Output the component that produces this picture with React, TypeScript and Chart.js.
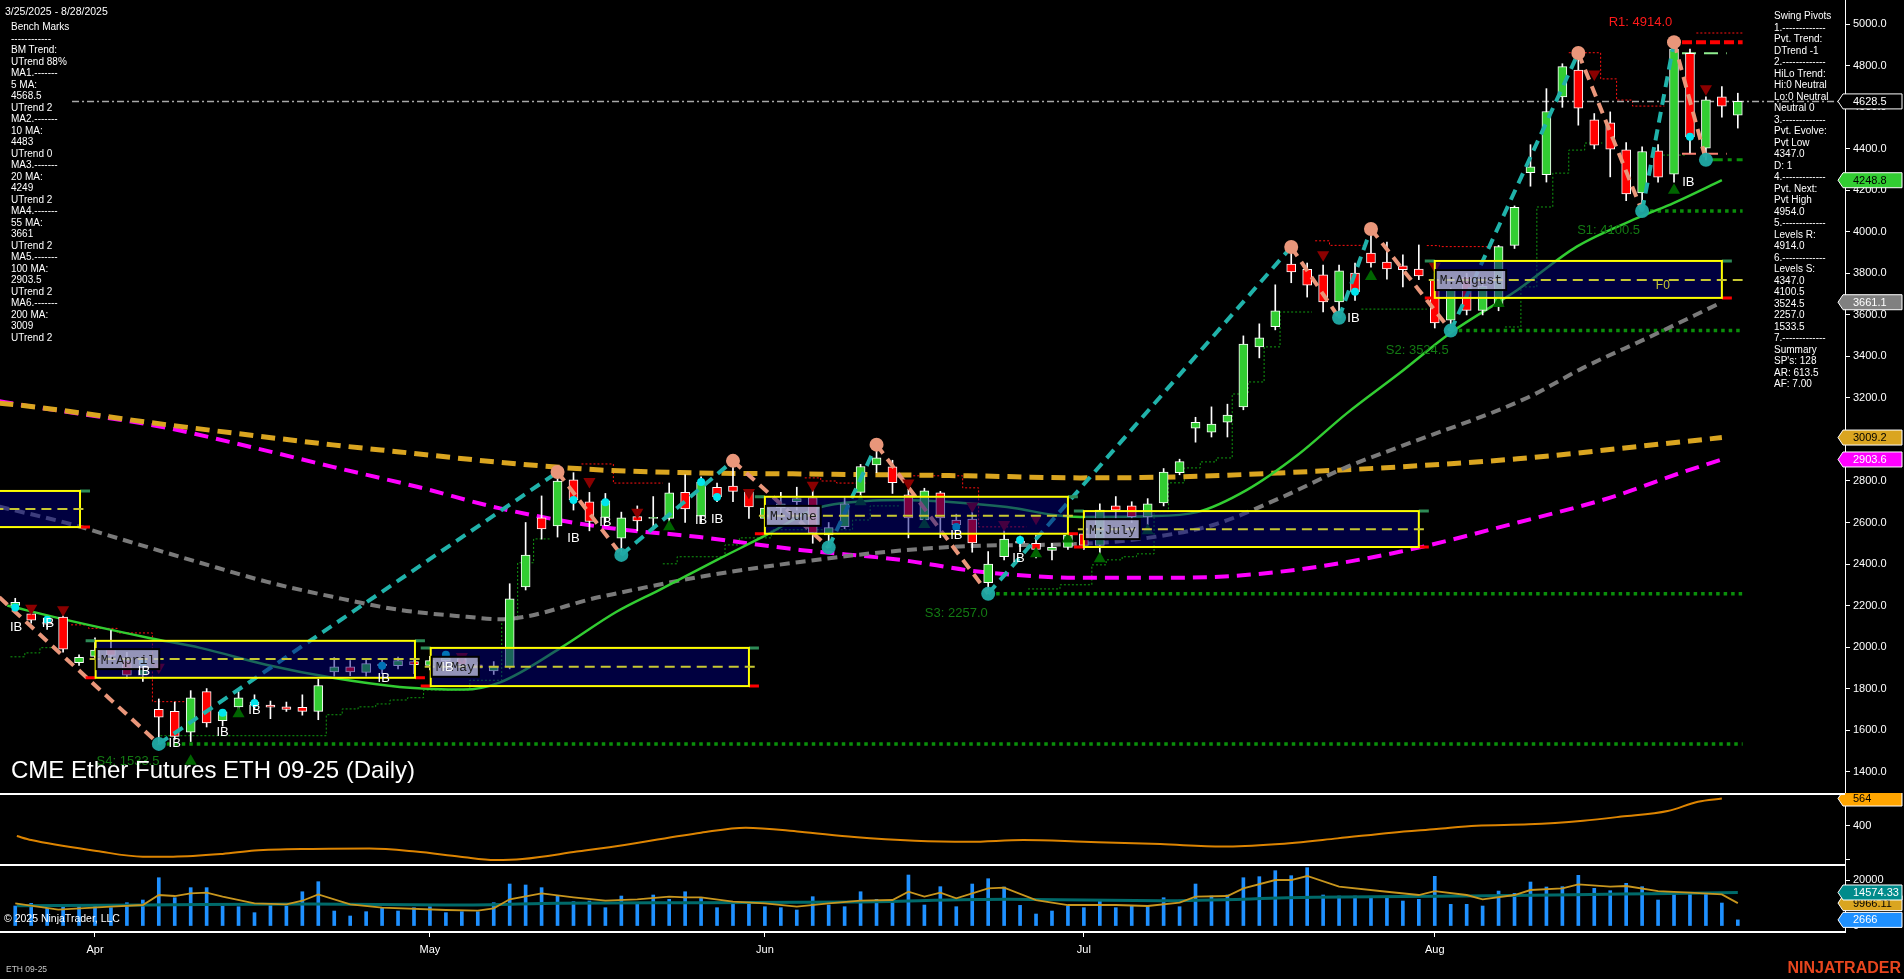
import React, { useEffect, useRef } from "react";
import { Chart, registerables } from "chart.js";

Chart.register(...registerables);

const FONT = '"Liberation Sans", Arial, Helvetica, sans-serif';
const MONO = '"Liberation Mono", "DejaVu Sans Mono", monospace';

// ---------------- data ----------------
const DATES = [
  "3/25","3/26","3/27","3/28","3/31",
  "4/1","4/2","4/3","4/4","4/7","4/8","4/9","4/10","4/11","4/14","4/15","4/16","4/17","4/21","4/22","4/23","4/24","4/25","4/28","4/29","4/30",
  "5/1","5/2","5/5","5/6","5/7","5/8","5/9","5/12","5/13","5/14","5/15","5/16","5/19","5/20","5/21","5/22","5/23","5/27","5/28","5/29","5/30",
  "6/2","6/3","6/4","6/5","6/6","6/9","6/10","6/11","6/12","6/13","6/16","6/17","6/18","6/20","6/23","6/24","6/25","6/26","6/27","6/30",
  "7/1","7/2","7/3","7/7","7/8","7/9","7/10","7/11","7/14","7/15","7/16","7/17","7/18","7/21","7/22","7/23","7/24","7/25","7/28","7/29","7/30","7/31",
  "8/1","8/4","8/5","8/6","8/7","8/8","8/11","8/12","8/13","8/14","8/15","8/18","8/19","8/20","8/21","8/22","8/25","8/26","8/27","8/28",
];

const OPEN = [
  2200,2160,2120,2145,1925,1955,1990,1935,1865,1700,
  1690,1590,1785,1645,1712,1735,1720,1712,1710,1690,
  1880,1905,1878,1918,1910,1930,1912,1935,1945,1915,
  1885,1905,2290,2622,2584,2805,2700,2625,2525,2628,
  2620,2620,2745,2630,2770,2775,2748,2620,2670,2700,
  2720,2540,2580,2745,2878,2868,2733,2613,2743,2612,
  2617,2310,2435,2510,2500,2465,2480,2545,2490,2680,
  2680,2627,2694,2840,3054,3035,3083,3157,3446,3543,
  3845,3820,3793,3663,3802,3898,3855,3837,3821,3768,
  3575,3782,3622,3640,3935,4285,4275,4650,4780,4540,
  4525,4395,4188,4391,4278,4860,4403,4650,4562,
];
const HIGH = [
  2235,2175,2145,2150,1962,2045,2080,1975,1925,1750,
  1735,1790,1800,1700,1785,1770,1740,1735,1770,1845,
  1950,1935,1945,1945,1952,1942,1955,1962,1952,1928,
  1930,2305,2600,2728,2843,2840,2745,2740,2650,2680,
  2725,2790,2830,2820,2790,2897,2760,2690,2745,2770,
  2760,2600,2720,2880,2975,2900,2760,2765,2750,2640,
  2650,2460,2560,2535,2540,2500,2560,2585,2690,2725,
  2700,2715,2860,2905,3107,3157,3170,3499,3557,3745,
  3927,3850,3840,3840,3850,4014,3951,3890,3937,3800,
  3730,3800,3760,3935,4125,4420,4690,4810,4862,4570,
  4578,4430,4410,4420,4914,4880,4650,4700,4668,
];
const LOW = [
  2165,2115,2085,1975,1912,1945,1940,1850,1835,1534,
  1555,1545,1615,1620,1683,1700,1655,1690,1672,1650,
  1860,1862,1860,1872,1895,1872,1890,1912,1900,1862,
  1868,1895,2275,2520,2530,2660,2560,2600,2444,2560,
  2565,2570,2600,2600,2700,2700,2620,2590,2640,2660,
  2500,2480,2570,2725,2840,2740,2526,2600,2527,2560,
  2457,2257,2420,2460,2430,2420,2470,2470,2450,2620,
  2600,2590,2680,2830,2987,3012,3012,3143,3393,3528,
  3755,3686,3614,3586,3670,3830,3772,3735,3770,3537,
  3524,3600,3600,3620,3920,4220,4240,4600,4514,4400,
  4265,4150,4100,4240,4240,4380,4347,4553,4500,
];
const CLOSE = [
  2215,2130,2110,1990,1950,1985,1960,1865,1895,1662,
  1570,1755,1635,1688,1755,1722,1710,1700,1690,1815,
  1905,1880,1920,1910,1935,1915,1935,1948,1915,1898,
  1905,2232,2443,2569,2800,2710,2605,2705,2622,2608,
  2624,2743,2665,2795,2723,2750,2675,2670,2690,2715,
  2550,2575,2690,2870,2912,2792,2622,2752,2622,2588,
  2502,2400,2520,2500,2470,2480,2540,2490,2660,2660,
  2628,2690,2843,2893,3083,3074,3118,3460,3490,3620,
  3807,3743,3663,3812,3711,3850,3822,3818,3788,3561,
  3720,3622,3739,3929,4118,4313,4580,4796,4596,4418,
  4399,4183,4387,4264,4880,4458,4636,4606,4628.5,
];
const VOLUME = [
  8700,9860,7680,8700,8700,9130,7970,10140,11300,21000,
  12300,16670,16670,8700,8400,5800,9860,8700,14900,19270,
  6520,4350,6230,7680,6520,7970,8400,5800,6230,6230,
  10140,18260,17830,16670,13040,10580,10870,7970,13040,9860,
  13480,11600,14900,12000,7970,9420,10140,8400,7970,6960,
  12750,9130,8400,14900,11600,11300,22170,9130,17100,8400,
  18260,20570,16960,8980,5220,6520,8700,7970,11300,7970,
  8700,8700,12300,8400,18260,13040,13480,21000,21450,24050,
  21880,25360,13480,13040,13040,12750,12460,10870,11600,21600,
  9420,9420,8700,15200,14200,19130,16960,17100,22030,16380,
  15360,18550,17100,11300,14000,14000,14200,10000,2666,
];

// axis ticks
const PRICE_TICKS = [1400,1600,1800,2000,2200,2400,2600,2800,3000,3200,3400,3600,3800,4000,4200,4400,4600,4800,5000];
const ATR_TICKS = [200, 400];
const ATR_TICK_LABELS = ["", "400"];
const VOL_TICKS = [0, 20000];
const MONTH_NAMES = ["Jan","Feb","Mar","Apr","May","Jun","Jul","Aug","Sep","Oct","Nov","Dec"];

// moving averages (bar index, value)
const MA20_IDX = [-0.5,3.2,8.4,11.6,15.8,19.9,24.1,26.2,28.1,30.4,34.2,37.7,40.4,44,47.1,50.3,53.4,55.5,58.4,62.6,65.1,66.8,71,74.1,77.2,80.4,83.5,86.8,90,94.2,97.9,101.9,104,107];
const MA20_VAL = [2200,2131,2044,1996,1914,1852,1808,1798,1795,1830,1996,2170,2276,2420,2540,2670,2704,2709,2700,2670,2636,2627,2630,2650,2756,2925,3127,3320,3514,3721,3929,4073,4140,4249];
const MA55_IDX = [-1,3.2,7.4,11.6,15.8,19.9,24.1,28.3,30.4,36.7,42.9,49.2,55.5,60.5,66.8,71,75.1,79.3,83.5,86.8,94.8,98.3,102.5,107];
const MA55_VAL = [2676,2598,2502,2406,2314,2242,2179,2146,2134,2242,2338,2410,2465,2488,2497,2526,2588,2718,2868,2965,3201,3345,3495,3661];
const MA200_IDX = [-1,0.1,9.5,19.9,24.1,30.4,36.7,42.9,49.2,55.5,60.5,66.8,73,79.3,86.8,94.2,104.4,107];
const MA200_VAL = [3175,3167,3071,2974,2940,2890,2853,2839,2834,2829,2824,2815,2820,2839,2868,2907,2988,3009];
const MA100_IDX = [-1,0.1,9.5,14.7,19.9,25.2,30.4,36.7,42.9,49.2,55.5,60.5,66.8,73,79.3,86.8,94.2,100,104.6,107];
const MA100_VAL = [3185,3170,3056,2965,2868,2772,2668,2579,2530,2468,2420,2363,2334,2334,2363,2459,2600,2720,2844,2904];

// swing pivots (first point is an off-chart high)
const SWING_IDX = [-1,9,34,38,45,51,54,61,80,83,85,90,98,102,104,106];
const SWING_VAL = [2240,1533.5,2843,2444,2897,2480,2975,2257,3927,3586,4014,3524.5,4862,4100.5,4914,4347];

// support / resistance levels
const SUP_LEVEL = [1533.5, 2257, 3524.5, 4100.5];
const SUP_START = [9.5, 61.5, 90.5, 102.5];
const LEVEL_END = 108.3;
const R1_LEVEL = 4914;
const PVT_LOW = 4347;
const LAST_PRICE = 4628.5;
const PREV_HI_MARK = 4860;
const PREV_LO_MARK = 4376;

// trailing step lines (null = gap)
const TSUP_IDX = [-0.3,0.6,1.55,2.5,2.5,
  9.1,19.5,20.5,21.5,22.6,23.5,24.6,25.6,28.5,30.5,31.5,32.5,33.5,33.5,
  40.6,41.5,44.5,45.4,47.4,52.5,53.6,55.5,55.5,
  63.5,65.5,67.5,68.4,69.4,70.3,71.4,72.3,73.3,74.3,75.3,76.3,77.3,78.3,79.3,81.3,81.3,
  84.4,88.5,88.5,
  93.4,94.4,95.4,96.4,97.4,98.4,99.5,99.5,
  103.3,104.8];
const TSUP_VAL = [1953,1972,1997,1997,null,
  1573,1674,1702,1712,1726,1745,1756,1793,1840,2131,2406,2521,2521,null,
  2401,2435,2492,2526,2565,2612,2680,2680,null,
  2280,2300,2396,2420,2435,2449,2652,2791,2863,2892,2911,3219,3277,3446,3614,3614,null,
  3628,3628,null,
  3542,3735,4120,4283,4394,4428,4428,null,
  4370,4370];
const TRES_IDX = [3.5,4.6,6.4,8.6,10.6,10.6,
  35.5,37.5,40.6,40.6,
  49.5,50.5,51.5,53.4,53.4,
  56.3,59.4,60.4,63.4,63.4,
  81.5,82.4,84.5,84.5,
  88.5,89.3,92.9,92.9,
  97.4,99.4,100.4,101.4,103.4,103.4,
  105.4,108.3];
const TRES_VAL = [2107,2090,2068,1737,1737,null,
  2882,2790,2790,null,
  2815,2800,2790,2790,null,
  2825,2767,2579,2579,null,
  3957,3935,3935,null,
  3934,3929,3929,null,
  4863,4737,4635,4606,4606,null,
  4958,4958];

// markers
const TRI_DN_IDX = [1,3,9,28,36,39,46,50,56,60,62,64,82,89,99,106];
const TRI_DN_VAL = [2187,2180,1903,1955,2797,2650,2745,2780,2790,2680,2590,2620,3890,3835,4760,4690];
const TRI_UP_IDX = [11,14,41,53,57,64,66,68,71,85,93,104];
const TRI_UP_VAL = [1450,1679,2580,2700,2590,2450,2520,2425,2560,3785,3655,4200];
const DOT_IDX = [0,2,8,13,15,23,27,35,37,43,44,59,63,84,105];
const DOT_VAL = [2190,2131,1924,1683,1731,1910,1963,2708,2698,2795,2723,2578,2516,3711,4458];
const IB_IDX = [0.05,2.05,8.07,10,13,15,23.1,27.1,35,37,43,44,59,62.9,83.9,104.9];
const IB_VAL = [2097,2116,1885,1538,1591,1697,1851,1900,2522,2599,2608,2613,2536,2425,3581,4240];

const LEVEL_TEXT = ["R1: 4914.0","S1: 4100.5","S2: 3524.5","S3: 2257.0","S4: 1533.5"];
const LEVEL_TEXT_IDX = [101.9,99.9,87.9,59,7.07];
const LEVEL_TEXT_VAL = [5008,4009,3431,2164,1447];

// monthly range boxes
const BOX_START = [-3,5.04,26.05,47,67,89];
const BOX_END = [4.06,25.06,46,66,88,107];
const BOX_TOP = [2752,2030,1996,2724,2655,3860];
const BOX_BOTTOM = [2578,1852,1812,2546,2482,3682];
const BOX_MID = [2665,1942,1905,2632,2568,3768];
const BOX_LABEL = ["","M:April","M:May","M:June","M:July","M:August"];

// price tags on right axis
const PRICE_TAG_VAL = [4628.5, 4248.8, 3661.1, 3009.2, 2903.6];
const PRICE_TAG_FILL = ["#000000","#32CD32","#808080","#DAA520","#FF00FF"];
const PRICE_TAG_TEXT = ["#FFFFFF","#000000","#FFFFFF","#000000","#FFFFFF"];

// ATR panel
const ATR_IDX = [0.1,1,5.1,8,9.9,13,15,18.6,22.2,25.1,27.9,30.1,31.8,35.2,38.2,43,45.8,49.2,52.6,56.4,59.8,63.2,67,71.8,75.7,79,82.9,86.3,89.1,91.6,94.9,98.3,100.7,103.6,105.5,107];
const ATR_VAL = [340,316,251,217,217,233,253,263,265,247,217,197,203,247,287,360,390,366,334,312,306,316,306,292,277,291,326,360,382,402,410,432,456,489,545,564];

// volume averages
const VOL_FAST_IDX = [0,2.7,6,8,9,10,11,12,13,15,17,18,19,21,23,27,29,30,31,33,35,37,39,41,42,43,45,47,49,51,53,55,56,57,58,59,61,62,64,66,69,71,73,74,76,77,79,80,81,83,86,88,89,91,92,94,95,97,98,100,101,103,105,107,108];
const VOL_FAST_VAL = [9860,7100,8400,9130,13480,13040,14200,14500,12750,9860,9420,11000,13770,9420,7970,6960,6700,7680,11600,14200,12460,11000,11600,12750,12460,12460,10580,9860,8400,9860,11000,11300,14900,12750,14500,12000,16380,16670,11300,9130,9130,8700,10140,12750,13040,16380,20000,20000,21740,17100,14900,13480,15200,13480,11600,13480,15650,16380,18120,17100,17390,15200,14500,13770,9966.11];
const VOL_SLOW_IDX = [0.1,8.1,18.6,27,34,42.9,52.6,62.2,71.8,81.4,91,100.7,108];
const VOL_SLOW_VAL = [8840,9130,9560,9130,9860,10140,10430,11600,11000,12460,13040,13910,14574.33];

const LEFT_LINES = ["Bench Marks","------------","BM Trend:","UTrend 88%","MA1.-------","5 MA:","4568.5","UTrend 2","MA2.-------","10 MA:","4483","UTrend 0","MA3.-------","20 MA:","4249","UTrend 2","MA4.-------","55 MA:","3661","UTrend 2","MA5.-------","100 MA:","2903.5","UTrend 2","MA6.-------","200 MA:","3009","UTrend 2"];
const RIGHT_LINES = ["Swing Pivots","1.-------------","Pvt. Trend:","DTrend -1","2.-------------","HiLo Trend:","Hi:0 Neutral","Lo:0 Neutral","Neutral 0","3.-------------","Pvt. Evolve:","Pvt Low","4347.0","D: 1","4.-------------","Pvt. Next:","Pvt High","4954.0","5.-------------","Levels R:","4914.0","6.-------------","Levels S:","4347.0","4100.5","3524.5","2257.0","1533.5","7.-------------","Summary","SP's: 128","AR: 613.5","AF: 7.00"];

// ---------------- layout constants ----------------
const X_MIN = -0.956;
const X_MAX = 114.72;
const AXIS_W = 59;

const MONTH_TICKS: number[] = [];
const MONTH_LABELS: string[] = [];
DATES.forEach((d, i) => {
  const m = +d.split("/")[0];
  if (i > 0 && m !== +DATES[i - 1].split("/")[0]) {
    MONTH_TICKS.push(i);
    MONTH_LABELS.push(MONTH_NAMES[m - 1]);
  }
});

const pts = (xs: number[], ys: (number | null)[]) => xs.map((x, i) => ({ x, y: ys[i] }));

function xAxis(display: boolean): any {
  const base: any = { type: "linear", min: X_MIN, max: X_MAX, offset: false, display, grid: { offset: false } };
  if (!display) return base;
  return {
    ...base,
    position: "bottom",
    grid: { offset: false, drawOnChartArea: false, drawTicks: true, tickLength: 5, color: "#FFFFFF", tickColor: "#FFFFFF" },
    border: { display: true, color: "#FFFFFF", width: 2 },
    ticks: {
      autoSkip: false, maxRotation: 0, minRotation: 0, color: "#FFFFFF",
      font: { family: FONT, size: 11 }, padding: 6,
      callback: (_v: any, i: number) => MONTH_LABELS[i],
    },
    afterBuildTicks: (s: any) => { s.ticks = MONTH_TICKS.map((v) => ({ value: v })); },
    afterFit: (s: any) => { s.height = 47; s.paddingLeft = 0; s.paddingRight = 0; },
  };
}

function yAxis(min: number, max: number, ticks: number[], label: (v: number) => string): any {
  return {
    type: "linear", position: "right", min, max,
    grid: { drawOnChartArea: false, drawTicks: true, tickLength: 5, color: "#FFFFFF", tickColor: "#FFFFFF" },
    border: { display: true, color: "#FFFFFF", width: 1 },
    ticks: { color: "#FFFFFF", font: { family: FONT, size: 11 }, padding: 3, autoSkip: false, callback: (v: any) => label(Number(v)) },
    afterBuildTicks: (s: any) => { s.ticks = ticks.map((v) => ({ value: v })); },
    afterFit: (s: any) => { s.width = AXIS_W; s.paddingTop = 0; s.paddingBottom = 0; },
  };
}

function drawTag(ctx: CanvasRenderingContext2D, right: number, y: number, text: string, fill: string, color: string) {
  const tip = right - 7, l = right - 2, r = right + 57, h = 7.5;
  ctx.beginPath();
  ctx.moveTo(tip, y);
  ctx.lineTo(l, y - h);
  ctx.lineTo(r, y - h);
  ctx.lineTo(r, y + h);
  ctx.lineTo(l, y + h);
  ctx.closePath();
  ctx.fillStyle = fill;
  ctx.fill();
  ctx.setLineDash([]);
  ctx.strokeStyle = "#FFFFFF";
  ctx.lineWidth = 1;
  ctx.stroke();
  ctx.fillStyle = color;
  ctx.font = `11px ${FONT}`;
  ctx.textAlign = "left";
  ctx.textBaseline = "middle";
  ctx.fillText(text, right + 8, y + 0.5);
}

const baseOptions = (scales: any): any => ({
  responsive: false,
  animation: false,
  devicePixelRatio: 1,
  events: [],
  layout: { padding: 0, autoPadding: false },
  plugins: { legend: { display: false }, tooltip: { enabled: false } },
  scales,
});

const lineDs = (data: any[], color: string, width: number, dash: number[], order: number, extra: any = {}): any => ({
  type: "line", data, borderColor: color, backgroundColor: color, borderWidth: width,
  borderDash: dash, pointRadius: 0, pointHoverRadius: 0, fill: false, order, spanGaps: false, ...extra,
});

const markerDs = (data: any[], color: string, style: string, radius: number, rotation: number, order: number): any => ({
  type: "line", data, showLine: false, pointStyle: style, pointRadius: radius, pointRotation: rotation,
  pointBackgroundColor: color, pointBorderColor: color, pointBorderWidth: 0, backgroundColor: color, borderColor: color, order,
});

function priceConfig(): any {
  const bodies = OPEN.map((o, i) => {
    const c = CLOSE[i];
    const lo = Math.min(o, c);
    let hi = Math.max(o, c);
    if (hi - lo < 5) hi = lo + 5;
    return { x: i, y: [lo, hi] };
  });
  const wicks = HIGH.map((h, i) => ({ x: i, y: [LOW[i], h] }));
  const bodyColors = OPEN.map((o, i) => (CLOSE[i] >= o ? "#32CD32" : "#FF0000"));

  const cyan: any[] = [];
  const salmon: any[] = [];
  const highs: any[] = [];
  const lows: any[] = [];
  for (let k = 0; k < SWING_IDX.length; k++) {
    if (SWING_IDX[k] >= 0) {
      const prev = k > 0 ? SWING_VAL[k - 1] : 0;
      (SWING_VAL[k] > prev ? highs : lows).push({ x: SWING_IDX[k], y: SWING_VAL[k] });
    }
    if (k < SWING_IDX.length - 1) {
      const a = { x: SWING_IDX[k], y: SWING_VAL[k] };
      const b = { x: SWING_IDX[k + 1], y: SWING_VAL[k + 1] };
      const arr = b.y > a.y ? cyan : salmon;
      arr.push(a, b, { x: b.x, y: null });
    }
  }
  const sup: any[] = [];
  SUP_LEVEL.forEach((lv, i) => { sup.push({ x: SUP_START[i], y: lv }, { x: LEVEL_END, y: lv }, { x: LEVEL_END, y: null }); });

  const datasets: any[] = [
    markerDs(highs, "#E9967A", "circle", 7, 0, 0),
    markerDs(lows, "rgba(32,170,165,0.95)", "circle", 7, 0, 0),
    markerDs(pts(TRI_DN_IDX, TRI_DN_VAL), "#8B0000", "triangle", 7, 180, 1),
    markerDs(pts(TRI_UP_IDX, TRI_UP_VAL), "#006400", "triangle", 7, 0, 1),
    markerDs(pts(DOT_IDX, DOT_VAL), "#00E5EE", "circle", 4, 0, 1),
    lineDs(cyan, "#20B2AA", 4, [11, 7], 2),
    lineDs(salmon, "#E9967A", 4, [11, 7], 2),
    {
      type: "bar", data: bodies, backgroundColor: bodyColors, borderColor: "#FFFFFF", borderWidth: 1,
      borderSkipped: false, barThickness: 9, maxBarThickness: 9, grouped: false, order: 3,
    },
    {
      type: "bar", data: wicks, backgroundColor: "#FFFFFF", borderWidth: 0,
      barThickness: 1, maxBarThickness: 1, grouped: false, order: 4,
    },
    lineDs(pts(MA20_IDX, MA20_VAL), "#32CD32", 2.5, [], 5, { cubicInterpolationMode: "monotone" }),
    lineDs(pts(MA55_IDX, MA55_VAL), "#7A7A7A", 4, [10, 6], 5, { cubicInterpolationMode: "monotone" }),
    lineDs(pts(MA200_IDX, MA200_VAL), "#DAA520", 5, [14, 8], 5, { cubicInterpolationMode: "monotone" }),
    lineDs(pts(MA100_IDX, MA100_VAL), "#FF00FF", 4, [14, 8], 6, { cubicInterpolationMode: "monotone" }),
    lineDs(sup, "#0A8F0A", 3.5, [3.5, 4], 7),
    lineDs([{ x: 104.5, y: R1_LEVEL }, { x: LEVEL_END, y: R1_LEVEL }], "#FF0000", 4, [10, 4], 7),
    lineDs([{ x: 106.3, y: PVT_LOW }, { x: LEVEL_END, y: PVT_LOW }], "#0A8F0A", 3, [12, 5, 4, 5], 7),
    lineDs([{ x: 104.5, y: PREV_HI_MARK }, { x: 107.3, y: PREV_HI_MARK }], "#90EE90", 2, [14, 8], 7),
    lineDs([{ x: 104.5, y: PREV_LO_MARK }, { x: 107.3, y: PREV_LO_MARK }], "#FA8072", 2, [14, 8], 7),
    lineDs([{ x: 3.56, y: LAST_PRICE }, { x: X_MAX, y: LAST_PRICE }], "#A9A9A9", 1.5, [7, 3, 2, 3], 8),
    lineDs(pts(TSUP_IDX, TSUP_VAL), "#109A10", 1, [2, 2], 8, { stepped: true }),
    lineDs(pts(TRES_IDX, TRES_VAL), "#FF1010", 1, [2, 2], 8, { stepped: true }),
  ];

  const overlay = {
    id: "priceOverlay",
    afterDatasetsDraw(chart: any) {
      const { ctx, chartArea: ca, scales } = chart;
      const xs = scales.x, ys = scales.y;
      ctx.save();
      ctx.beginPath();
      ctx.rect(ca.left, ca.top, ca.right - ca.left, ca.bottom - ca.top);
      ctx.clip();
      for (let b = 0; b < BOX_START.length; b++) {
        const x0 = xs.getPixelForValue(BOX_START[b]);
        const x1 = xs.getPixelForValue(BOX_END[b]);
        const yT = ys.getPixelForValue(BOX_TOP[b]);
        const yB = ys.getPixelForValue(BOX_BOTTOM[b]);
        const yM = ys.getPixelForValue(BOX_MID[b]);
        ctx.fillStyle = "rgba(0,0,128,0.5)";
        ctx.fillRect(x0, yT, x1 - x0, yB - yT);
        ctx.setLineDash([]);
        ctx.lineWidth = 3;
        ctx.strokeStyle = "#2E8B57";
        ctx.beginPath(); ctx.moveTo(x0 - 10, yT); ctx.lineTo(x0, yT); ctx.moveTo(x1, yT); ctx.lineTo(x1 + 10, yT); ctx.stroke();
        ctx.strokeStyle = "#FF0000";
        ctx.beginPath(); ctx.moveTo(x0 - 10, yB); ctx.lineTo(x0, yB); ctx.moveTo(x1, yB); ctx.lineTo(x1 + 10, yB); ctx.stroke();
        ctx.strokeStyle = "#FFFF00";
        ctx.lineWidth = 2;
        ctx.strokeRect(x0, yT, x1 - x0, yB - yT);
        ctx.setLineDash([10, 6]);
        ctx.strokeStyle = "#C8C832";
        ctx.beginPath();
        ctx.moveTo(x0 - 6, yM);
        ctx.lineTo(b === BOX_START.length - 1 ? xs.getPixelForValue(LEVEL_END) : x1 + 6, yM);
        ctx.stroke();
        ctx.setLineDash([]);
        if (BOX_LABEL[b]) {
          ctx.font = `13px ${MONO}`;
          const w = ctx.measureText(BOX_LABEL[b]).width + 8;
          ctx.fillStyle = "rgba(190,190,218,0.78)";
          ctx.fillRect(x0 + 1, yM - 10, w, 20);
          ctx.strokeStyle = "#000000";
          ctx.lineWidth = 2;
          ctx.strokeRect(x0 + 1, yM - 10, w, 20);
          ctx.fillStyle = "#1A1A1A";
          ctx.textAlign = "left";
          ctx.textBaseline = "middle";
          ctx.fillText(BOX_LABEL[b], x0 + 5, yM + 1);
        }
      }
      ctx.font = `12px ${FONT}`;
      ctx.fillStyle = "#C8C832";
      ctx.textAlign = "center";
      ctx.textBaseline = "middle";
      ctx.fillText("F0", xs.getPixelForValue(103.3), ys.getPixelForValue(3740));
      ctx.font = `13px ${FONT}`;
      ctx.fillStyle = "#FFFFFF";
      IB_IDX.forEach((ix, i) => ctx.fillText("IB", xs.getPixelForValue(ix), ys.getPixelForValue(IB_VAL[i])));
      LEVEL_TEXT.forEach((t, i) => {
        ctx.fillStyle = t.startsWith("R") ? "#FF1A1A" : "#137A13";
        ctx.fillText(t, xs.getPixelForValue(LEVEL_TEXT_IDX[i]), ys.getPixelForValue(LEVEL_TEXT_VAL[i]));
      });
      ctx.restore();
    },
    afterDraw(chart: any) {
      const { ctx, chartArea: ca, scales } = chart;
      ctx.save();
      PRICE_TAG_VAL.forEach((v, i) =>
        drawTag(ctx, ca.right, scales.y.getPixelForValue(v), v.toFixed(1), PRICE_TAG_FILL[i], PRICE_TAG_TEXT[i])
      );
      ctx.restore();
    },
  };

  return {
    type: "line",
    data: { datasets },
    options: baseOptions({ x: xAxis(false), y: yAxis(1297, 5117, PRICE_TICKS, (v) => v.toFixed(1)) }),
    plugins: [overlay],
  };
}

function atrConfig(): any {
  const overlay = {
    id: "atrOverlay",
    afterDraw(chart: any) {
      const { ctx, chartArea: ca, scales } = chart;
      ctx.save();
      drawTag(ctx, ca.right, scales.y.getPixelForValue(ATR_VAL[ATR_VAL.length - 1]), String(ATR_VAL[ATR_VAL.length - 1]), "#FFA500", "#000000");
      ctx.fillStyle = "#FFFFFF";
      ctx.fillRect(0, 0, ca.right, 2);
      ctx.restore();
    },
  };
  return {
    type: "line",
    data: { datasets: [lineDs(pts(ATR_IDX, ATR_VAL), "#DD8400", 2, [], 0, { cubicInterpolationMode: "monotone" })] },
    options: baseOptions({
      x: xAxis(false),
      y: yAxis(173, 597, ATR_TICKS, (v) => ATR_TICK_LABELS[ATR_TICKS.indexOf(v)] || ""),
    }),
    plugins: [overlay],
  };
}

function volConfig(): any {
  const overlay = {
    id: "volOverlay",
    afterDraw(chart: any) {
      const { ctx, chartArea: ca, scales } = chart;
      ctx.save();
      const fastLast = VOL_FAST_VAL[VOL_FAST_VAL.length - 1];
      const slowLast = VOL_SLOW_VAL[VOL_SLOW_VAL.length - 1];
      const volLast = VOLUME[VOLUME.length - 1];
      drawTag(ctx, ca.right, scales.y.getPixelForValue(fastLast), fastLast.toFixed(2), "#DAA520", "#000000");
      drawTag(ctx, ca.right, scales.y.getPixelForValue(slowLast), slowLast.toFixed(2), "#008B8B", "#FFFFFF");
      drawTag(ctx, ca.right, scales.y.getPixelForValue(volLast), String(volLast), "#1E90FF", "#FFFFFF");
      ctx.fillStyle = "#FFFFFF";
      ctx.fillRect(0, 0, ca.right, 2);
      ctx.restore();
    },
  };
  return {
    type: "line",
    data: {
      datasets: [
        lineDs(pts(VOL_FAST_IDX, VOL_FAST_VAL), "#C8961E", 1.8, [], 0),
        lineDs(pts(VOL_SLOW_IDX, VOL_SLOW_VAL), "#006A6A", 3, [], 1, { cubicInterpolationMode: "monotone" }),
        {
          type: "bar", data: VOLUME.map((v, i) => ({ x: i, y: v })), backgroundColor: "#1E90FF",
          borderWidth: 0, barThickness: 3, maxBarThickness: 3, grouped: false, order: 2,
        },
      ],
    },
    options: baseOptions({
      x: xAxis(true),
      y: yAxis(-2600, 26960, VOL_TICKS, (v) => String(v)),
    }),
    plugins: [overlay],
  };
}

export default function App() {
  const priceRef = useRef<HTMLCanvasElement>(null);
  const atrRef = useRef<HTMLCanvasElement>(null);
  const volRef = useRef<HTMLCanvasElement>(null);

  useEffect(() => {
    const charts: Chart[] = [];
    if (priceRef.current) charts.push(new Chart(priceRef.current, priceConfig()));
    if (atrRef.current) charts.push(new Chart(atrRef.current, atrConfig()));
    if (volRef.current) charts.push(new Chart(volRef.current, volConfig()));
    return () => charts.forEach((c) => c.destroy());
  }, []);

  const abs = (left: number, top: number, extra: any = {}): any => ({
    position: "absolute", left, top, color: "#FFFFFF", fontFamily: FONT, whiteSpace: "pre", ...extra,
  });

  return (
    <div style={{ position: "fixed", left: 0, top: 0, width: 1904, height: 979, background: "#000000", overflow: "hidden", fontFamily: FONT }}>
      <canvas ref={priceRef} width={1904} height={793} style={{ position: "absolute", left: 0, top: 0, width: 1904, height: 793 }} />
      <canvas ref={atrRef} width={1904} height={71} style={{ position: "absolute", left: 0, top: 793, width: 1904, height: 71 }} />
      <canvas ref={volRef} width={1904} height={115} style={{ position: "absolute", left: 0, top: 864, width: 1904, height: 115 }} />

      <div style={abs(5, 5, { fontSize: 10.5, lineHeight: "12px" })}>3/25/2025 - 8/28/2025</div>
      <div style={abs(11, 21, { fontSize: 10, lineHeight: "11.52px" })}>
        {LEFT_LINES.map((t, i) => <div key={i}>{t}</div>)}
      </div>
      <div style={abs(1774, 10, { fontSize: 10, lineHeight: "11.5px" })}>
        {RIGHT_LINES.map((t, i) => <div key={i}>{t}</div>)}
      </div>
      <div style={abs(11, 757.5, { fontSize: 24, lineHeight: "24px" })}>CME Ether Futures ETH 09-25 (Daily)</div>
      <div style={abs(4, 912, { fontSize: 10.5, lineHeight: "12px" })}>© 2025 NinjaTrader, LLC</div>
      <div style={abs(6, 964, { fontSize: 8.5, lineHeight: "10px", color: "#C8C8C8" })}>ETH 09-25</div>
      <div style={{ position: "absolute", right: 3, top: 960, color: "#E8461E", fontFamily: FONT, fontWeight: "bold", fontSize: 16, lineHeight: "16px", whiteSpace: "pre" }}>NINJATRADER</div>
    </div>
  );
}
